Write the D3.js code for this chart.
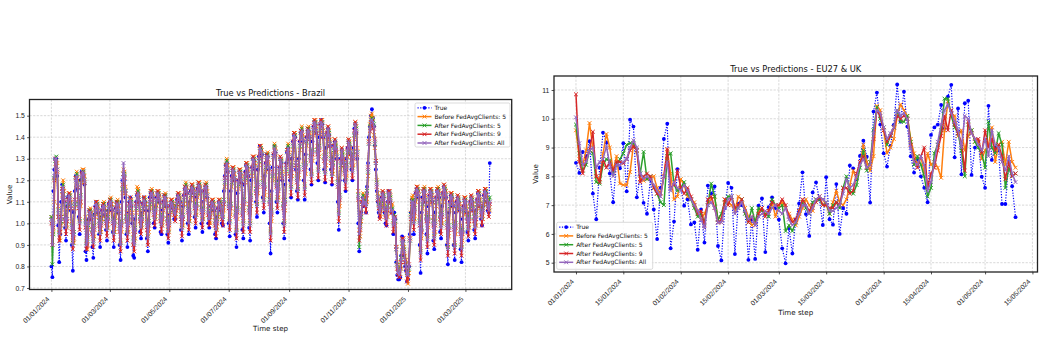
<!DOCTYPE html>
<html><head><meta charset="utf-8">
<script src="https://cdn.jsdelivr.net/npm/d3@7"></script>
<style>body{margin:0;background:#fff}svg{display:block;font-family:"DejaVu Sans",sans-serif}</style>
</head><body><svg id="c" width="1045" height="340"></svg>
<script>
const seriesNames = ["True","Before FedAvgClients: 5","After FedAvgClients: 5","After FedAvgClients: 9","After FedAvgClients: All"];
const seriesColors = ["#0000ff","#ff7f0e","#2ca02c","#d62728","#9467bd"];
const startDate = "01/01/2024";

// ---------- Brazil (daily from 01/01/2024) ----------
const brazilTitle = "True vs Predictions - Brazil";
const brazilYTicks = [0.7,0.8,0.9,1.0,1.1,1.2,1.3,1.4,1.5];
const brazilXTicks = ["01/01/2024","01/03/2024","01/05/2024","01/07/2024","01/09/2024","01/11/2024","01/01/2025","01/03/2025"];
const brazilTrue = [
0.80,0.75,1.15,1.25,1.30,1.30,1.22, 0.99,0.82,0.95,1.10,1.18,1.15,1.10, 0.98,0.92,1.08,1.12,1.13,1.10,1.06,
0.90,0.78,1.05,1.15,1.22,1.20,1.16, 1.03,0.95,1.20,1.24,1.23,1.22,1.18, 0.87,0.83,0.95,1.02,1.06,1.05,1.02,
0.89,0.84,1.04,1.08,1.10,1.07,1.05, 0.95,0.89,1.03,1.06,1.08,1.07,1.04, 0.97,0.92,1.06,1.09,1.10,1.09,1.06,
0.96,0.89,1.03,1.07,1.10,1.08,1.05, 0.90,0.83,1.10,1.20,1.22,1.20,1.12, 0.95,0.89,1.05,1.10,1.12,1.08,1.00,
0.85,0.84,1.02,1.10,1.13,1.13,1.10, 0.96,0.93,1.05,1.09,1.12,1.10,1.06, 0.93,0.87,1.06,1.12,1.14,1.14,1.12,
1.00,0.98,1.08,1.12,1.14,1.13,1.10, 0.96,0.95,1.06,1.10,1.13,1.12,1.08, 0.95,0.91,1.04,1.08,1.10,1.09,1.07,
1.02,1.02,1.08,1.11,1.13,1.12,1.10, 0.97,0.92,1.08,1.13,1.16,1.17,1.14, 1.00,0.95,1.10,1.15,1.17,1.16,1.14,
1.03,0.98,1.12,1.16,1.18,1.17,1.15, 1.00,0.96,1.10,1.15,1.17,1.17,1.12, 1.00,0.98,1.05,1.08,1.10,1.09,1.06,
0.95,0.93,1.03,1.07,1.10,1.09,1.06, 1.00,0.99,1.15,1.22,1.27,1.28,1.24, 1.00,0.94,1.15,1.22,1.25,1.24,1.20,
0.95,0.89,1.14,1.20,1.24,1.23,1.19, 0.97,0.93,1.18,1.24,1.27,1.26,1.22, 0.98,0.92,1.20,1.26,1.30,1.29,1.25,
1.10,1.03,1.25,1.31,1.36,1.34,1.32, 1.12,1.05,1.22,1.28,1.32,1.31,1.25, 1.00,0.86,1.15,1.26,1.32,1.36,1.33,
1.10,1.05,1.20,1.26,1.30,1.28,1.20, 1.00,0.93,1.18,1.28,1.33,1.35,1.30, 1.20,1.12,1.30,1.38,1.41,1.40,1.25,
1.15,1.11,1.30,1.38,1.42,1.43,1.38, 1.20,1.11,1.32,1.40,1.43,1.43,1.40, 1.25,1.18,1.38,1.45,1.47,1.46,1.42,
1.28,1.20,1.40,1.46,1.48,1.46,1.40, 1.25,1.19,1.35,1.42,1.44,1.41,1.36, 1.25,1.18,1.30,1.36,1.38,1.34,1.30,
1.10,0.97,1.20,1.30,1.34,1.30,1.28, 1.20,1.15,1.30,1.35,1.38,1.36,1.32, 1.25,1.20,1.35,1.44,1.46,1.42,1.30,
1.00,0.87,1.00,1.05,1.10,1.12,1.08, 1.08,1.05,1.17,1.28,1.40,1.45,1.50, 1.53,1.49,1.45,1.36,1.25,1.15,1.10,
1.05,1.03,1.08,1.12,1.14,1.12,1.05, 1.00,0.99,1.10,1.15,1.14,1.10,1.05, 1.05,0.95,1.05,1.02,0.82,0.76,0.74,
0.74,0.75,0.85,0.94,0.92,0.85,0.80, 0.78,0.73,0.74,0.80,0.95,1.05,1.11, 1.10,0.95,1.10,1.14,1.16,1.15,1.12,
0.90,0.77,1.05,1.12,1.15,1.15,1.10, 0.95,0.86,1.08,1.13,1.15,1.14,1.10, 0.92,0.88,1.05,1.12,1.15,1.15,1.12,
0.96,0.93,1.08,1.14,1.17,1.15,1.12, 0.90,0.81,1.05,1.10,1.13,1.12,1.08, 0.90,0.83,1.05,1.10,1.12,1.10,1.06,
0.88,0.82,1.02,1.08,1.11,1.10,1.05, 0.96,0.92,1.05,1.10,1.12,1.10,1.06, 0.97,0.93,1.06,1.11,1.14,1.13,1.08,
1.02,0.99,1.08,1.13,1.15,1.14,1.10, 1.06,1.05,1.28];
const brazilBefore5 = [
1.03,0.95,0.96,1.10,1.26,1.30,1.28, 1.08,0.97,0.92,0.99,1.13,1.20,1.15, 1.05,1.00,0.98,1.07,1.14,1.14,1.10,
1.01,0.92,0.91,1.07,1.21,1.24,1.20, 1.11,1.02,1.08,1.19,1.25,1.25,1.22, 1.03,0.92,0.88,0.97,1.06,1.07,1.05,
0.99,0.93,0.94,1.03,1.10,1.10,1.08, 1.03,0.97,0.96,1.02,1.09,1.10,1.07, 1.04,0.99,0.98,1.05,1.11,1.12,1.09,
1.04,0.97,0.96,1.03,1.10,1.11,1.08, 1.01,0.92,0.96,1.14,1.25,1.24,1.17, 1.05,0.97,0.96,1.05,1.12,1.11,1.05,
0.95,0.92,0.93,1.05,1.17,1.16,1.13, 1.05,1.00,0.98,1.05,1.12,1.12,1.09, 1.02,0.95,0.96,1.07,1.15,1.16,1.14,
1.08,1.04,1.02,1.08,1.15,1.15,1.13, 1.05,1.01,0.99,1.06,1.13,1.14,1.11, 1.04,0.98,0.96,1.04,1.11,1.11,1.09,
1.08,1.06,1.03,1.07,1.14,1.14,1.12, 1.06,0.99,0.99,1.09,1.17,1.19,1.17, 1.09,1.02,1.01,1.11,1.18,1.18,1.16,
1.11,1.05,1.04,1.12,1.19,1.19,1.17, 1.09,1.03,1.02,1.11,1.18,1.19,1.15, 1.08,1.04,1.00,1.05,1.11,1.11,1.09,
1.03,0.99,0.97,1.03,1.11,1.11,1.09, 1.06,1.04,1.06,1.17,1.27,1.30,1.27, 1.11,1.02,1.04,1.17,1.26,1.26,1.23,
1.07,0.98,1.02,1.16,1.25,1.25,1.22, 1.08,1.01,1.06,1.19,1.28,1.28,1.25, 1.09,1.01,1.08,1.22,1.31,1.31,1.28,
1.18,1.10,1.14,1.27,1.36,1.36,1.34, 1.21,1.12,1.13,1.24,1.32,1.33,1.28, 1.13,0.97,1.01,1.20,1.32,1.37,1.35,
1.21,1.12,1.12,1.22,1.31,1.30,1.24, 1.11,1.01,1.06,1.23,1.34,1.37,1.33, 1.26,1.18,1.22,1.34,1.42,1.42,1.30,
1.23,1.17,1.21,1.34,1.43,1.45,1.41, 1.29,1.18,1.23,1.36,1.44,1.45,1.42, 1.33,1.24,1.29,1.41,1.48,1.48,1.45,
1.36,1.26,1.31,1.42,1.48,1.48,1.43, 1.33,1.25,1.27,1.38,1.45,1.43,1.39, 1.32,1.24,1.23,1.32,1.39,1.37,1.33,
1.21,1.06,1.08,1.25,1.35,1.33,1.30, 1.27,1.21,1.22,1.31,1.39,1.38,1.35, 1.31,1.26,1.27,1.39,1.47,1.45,1.35,
1.15,0.97,0.94,1.01,1.10,1.14,1.11, 1.13,1.10,1.10,1.22,1.38,1.46,1.50, 1.51,1.49,1.41,1.35,1.29,1.20,1.14,
1.11,1.07,1.03,1.08,1.15,1.14,1.09, 1.07,1.04,1.03,1.11,1.15,1.13,1.08, 1.09,1.01,0.99,0.99,0.89,0.82,0.79,
0.79,0.80,0.79,0.89,0.93,0.89,0.85, 0.83,0.78,0.72,0.77,0.93,1.05,1.12, 1.13,1.02,1.02,1.10,1.17,1.17,1.15,
1.03,0.88,0.93,1.07,1.16,1.17,1.13, 1.05,0.94,0.98,1.09,1.16,1.16,1.13, 1.03,0.95,0.96,1.08,1.16,1.17,1.15,
1.06,1.00,1.00,1.10,1.18,1.17,1.15, 1.02,0.90,0.94,1.06,1.14,1.14,1.11, 1.01,0.91,0.95,1.06,1.13,1.12,1.09,
0.99,0.90,0.92,1.04,1.12,1.12,1.08, 1.05,0.99,0.98,1.06,1.13,1.12,1.09, 1.05,1.00,0.99,1.07,1.15,1.15,1.11,
1.08,1.04,1.02,1.09,1.16,1.16,1.13, 1.11,1.08,1.06];
const brazilAfter5 = [
1.03,0.81,0.95,1.21,1.29,1.31,1.25, 1.06,0.96,0.99,1.01,1.15,1.18,1.12, 1.03,0.99,1.02,1.09,1.13,1.13,1.08,
0.99,0.91,0.96,1.09,1.20,1.23,1.18, 1.09,1.01,1.13,1.21,1.24,1.24,1.20, 1.01,0.91,0.93,0.99,1.05,1.06,1.03,
0.97,0.92,0.99,1.05,1.09,1.09,1.06, 1.01,0.96,1.01,1.04,1.08,1.09,1.05, 1.02,0.98,1.03,1.07,1.10,1.11,1.07,
1.02,0.96,1.01,1.05,1.09,1.10,1.06, 0.99,0.91,1.01,1.16,1.23,1.23,1.15, 1.03,0.96,1.01,1.07,1.11,1.10,1.03,
0.93,0.91,0.98,1.07,1.13,1.15,1.11, 1.03,0.99,1.03,1.07,1.11,1.11,1.07, 1.00,0.94,1.01,1.09,1.14,1.15,1.12,
1.06,1.03,1.07,1.10,1.14,1.14,1.11, 1.03,1.00,1.04,1.08,1.12,1.13,1.09, 1.02,0.97,1.01,1.06,1.10,1.10,1.07,
1.06,1.05,1.08,1.09,1.13,1.13,1.10, 1.04,0.98,1.04,1.11,1.16,1.18,1.15, 1.07,1.01,1.06,1.13,1.17,1.17,1.14,
1.09,1.04,1.09,1.14,1.18,1.18,1.15, 1.07,1.02,1.07,1.13,1.17,1.18,1.13, 1.06,1.03,1.05,1.07,1.10,1.10,1.07,
1.01,0.98,1.02,1.05,1.10,1.10,1.07, 1.04,1.03,1.11,1.19,1.26,1.29,1.25, 1.09,1.01,1.09,1.19,1.25,1.25,1.21,
1.05,0.97,1.07,1.18,1.24,1.24,1.20, 1.06,1.00,1.11,1.21,1.27,1.27,1.23, 1.07,1.00,1.13,1.24,1.30,1.30,1.26,
1.16,1.09,1.19,1.29,1.35,1.35,1.32, 1.19,1.11,1.18,1.26,1.31,1.32,1.26, 1.11,0.96,1.06,1.22,1.31,1.36,1.33,
1.19,1.11,1.17,1.24,1.30,1.29,1.22, 1.09,1.00,1.11,1.25,1.33,1.36,1.31, 1.24,1.17,1.27,1.36,1.41,1.41,1.28,
1.21,1.16,1.26,1.36,1.42,1.44,1.39, 1.27,1.17,1.28,1.38,1.43,1.44,1.40, 1.31,1.23,1.34,1.43,1.47,1.47,1.43,
1.34,1.25,1.36,1.44,1.47,1.47,1.41, 1.31,1.24,1.32,1.40,1.44,1.42,1.37, 1.30,1.23,1.28,1.34,1.38,1.36,1.31,
1.19,1.05,1.13,1.27,1.34,1.32,1.28, 1.25,1.20,1.27,1.33,1.38,1.37,1.33, 1.29,1.25,1.32,1.41,1.46,1.44,1.33,
1.13,0.89,0.99,1.03,1.09,1.13,1.09, 1.11,1.09,1.15,1.24,1.37,1.45,1.48, 1.49,1.48,1.46,1.37,1.28,1.19,1.12,
1.09,1.06,1.08,1.10,1.14,1.13,1.07, 1.05,1.03,1.08,1.13,1.14,1.12,1.06, 1.07,1.00,1.04,1.01,0.88,0.81,0.77,
0.77,0.79,0.84,0.91,0.92,0.88,0.83, 0.81,0.77,0.77,0.79,0.92,1.04,1.10, 1.11,1.01,1.07,1.12,1.16,1.16,1.13,
1.01,0.87,0.98,1.09,1.15,1.16,1.11, 1.03,0.93,1.03,1.11,1.15,1.15,1.11, 1.01,0.94,1.01,1.10,1.15,1.16,1.13,
1.04,0.99,1.05,1.12,1.17,1.16,1.13, 1.00,0.89,0.99,1.08,1.13,1.13,1.09, 0.99,0.90,1.00,1.08,1.12,1.11,1.07,
0.97,0.89,0.97,1.06,1.11,1.11,1.06, 1.03,0.98,1.03,1.08,1.12,1.11,1.07, 1.03,0.99,1.04,1.09,1.14,1.14,1.09,
1.06,1.03,1.07,1.11,1.15,1.15,1.11, 1.09,1.07,1.12];
const brazilAfter9 = [
1.00,0.90,0.98,1.20,1.30,1.29,1.24, 1.03,0.92,0.96,1.03,1.16,1.16,1.11, 1.01,0.95,1.01,1.11,1.14,1.11,1.07,
0.96,0.88,0.93,1.11,1.21,1.21,1.17, 1.07,0.97,1.10,1.23,1.24,1.22,1.19, 0.98,0.88,0.90,1.01,1.06,1.04,1.02,
0.95,0.89,0.97,1.07,1.10,1.07,1.05, 0.99,0.92,0.99,1.06,1.09,1.07,1.04, 1.00,0.94,1.01,1.09,1.11,1.09,1.06,
1.00,0.92,0.99,1.07,1.10,1.08,1.05, 0.96,0.87,0.99,1.18,1.23,1.21,1.14, 1.01,0.92,0.99,1.09,1.12,1.08,1.02,
0.90,0.87,0.96,1.09,1.14,1.13,1.10, 1.01,0.95,1.01,1.09,1.12,1.09,1.06, 0.97,0.90,0.99,1.11,1.15,1.13,1.11,
1.04,0.99,1.05,1.12,1.15,1.12,1.10, 1.01,0.96,1.02,1.10,1.13,1.11,1.08, 1.00,0.93,0.99,1.08,1.11,1.08,1.06,
1.04,1.01,1.06,1.11,1.14,1.11,1.09, 1.02,0.94,1.02,1.13,1.17,1.16,1.14, 1.05,0.97,1.04,1.15,1.18,1.15,1.13,
1.07,1.00,1.07,1.16,1.19,1.16,1.14, 1.05,0.98,1.05,1.15,1.18,1.16,1.12, 1.04,0.99,1.03,1.09,1.11,1.08,1.06,
0.99,0.94,1.00,1.07,1.11,1.08,1.06, 1.02,0.99,1.09,1.21,1.27,1.27,1.24, 1.07,0.97,1.07,1.21,1.26,1.23,1.20,
1.03,0.93,1.05,1.20,1.25,1.22,1.19, 1.04,0.96,1.09,1.23,1.28,1.25,1.22, 1.05,0.96,1.11,1.26,1.31,1.28,1.25,
1.14,1.05,1.17,1.31,1.36,1.33,1.31, 1.17,1.07,1.16,1.28,1.32,1.30,1.25, 1.09,0.92,1.04,1.24,1.32,1.34,1.32,
1.17,1.07,1.15,1.26,1.31,1.27,1.21, 1.07,0.96,1.09,1.27,1.34,1.34,1.30, 1.22,1.13,1.25,1.38,1.42,1.39,1.27,
1.19,1.12,1.24,1.38,1.43,1.42,1.38, 1.25,1.13,1.26,1.40,1.44,1.42,1.39, 1.29,1.19,1.32,1.45,1.48,1.45,1.42,
1.32,1.21,1.34,1.46,1.48,1.45,1.40, 1.29,1.20,1.30,1.42,1.45,1.40,1.36, 1.28,1.19,1.26,1.36,1.39,1.34,1.30,
1.17,1.01,1.11,1.29,1.35,1.30,1.27, 1.23,1.16,1.25,1.35,1.39,1.35,1.32, 1.27,1.21,1.30,1.43,1.47,1.42,1.32,
1.11,0.92,0.97,1.05,1.10,1.11,1.08, 1.09,1.05,1.13,1.26,1.38,1.43,1.47, 1.47,1.44,1.44,1.39,1.29,1.17,1.11,
1.07,1.02,1.06,1.12,1.15,1.11,1.06, 1.03,0.99,1.06,1.15,1.15,1.10,1.05, 1.05,0.96,1.02,1.03,0.89,0.79,0.76,
0.75,0.75,0.82,0.93,0.93,0.86,0.82, 0.79,0.73,0.75,0.81,0.93,1.02,1.09, 1.09,0.97,1.05,1.14,1.17,1.14,1.12,
0.99,0.83,0.96,1.11,1.16,1.14,1.10, 1.01,0.89,1.01,1.13,1.16,1.13,1.10, 0.99,0.90,0.99,1.12,1.16,1.14,1.12,
1.02,0.95,1.03,1.14,1.18,1.14,1.12, 0.98,0.85,0.97,1.10,1.14,1.11,1.08, 0.97,0.86,0.98,1.10,1.13,1.09,1.06,
0.95,0.85,0.95,1.08,1.12,1.09,1.05, 1.01,0.94,1.01,1.10,1.13,1.09,1.06, 1.01,0.95,1.02,1.11,1.15,1.12,1.08,
1.04,0.99,1.05,1.13,1.16,1.13,1.10, 1.07,1.03,1.09];
const brazilAfterAll = [
1.02,0.90,1.00,1.22,1.30,1.30,1.25, 1.05,0.95,0.98,1.02,1.15,1.17,1.12, 1.02,0.98,1.02,1.10,1.13,1.12,1.08,
0.98,0.90,0.95,1.10,1.20,1.22,1.18, 1.08,1.00,1.12,1.22,1.24,1.23,1.20, 1.00,0.90,0.92,1.00,1.05,1.05,1.03,
0.96,0.91,0.98,1.06,1.09,1.08,1.06, 1.00,0.95,1.00,1.05,1.08,1.08,1.05, 1.01,0.97,1.02,1.08,1.10,1.10,1.07,
1.01,0.95,1.00,1.06,1.09,1.09,1.06, 0.98,0.90,1.00,1.20,1.28,1.22,1.15, 1.02,0.95,1.00,1.08,1.11,1.09,1.03,
0.92,0.90,0.97,1.08,1.13,1.14,1.11, 1.02,0.98,1.02,1.08,1.11,1.10,1.07, 0.99,0.93,1.00,1.10,1.14,1.14,1.12,
1.05,1.02,1.06,1.11,1.14,1.13,1.11, 1.02,0.99,1.03,1.09,1.12,1.12,1.09, 1.01,0.96,1.00,1.07,1.10,1.09,1.07,
1.05,1.04,1.07,1.10,1.13,1.12,1.10, 1.03,0.97,1.03,1.12,1.16,1.17,1.15, 1.06,1.00,1.05,1.14,1.17,1.16,1.14,
1.08,1.03,1.08,1.15,1.18,1.17,1.15, 1.06,1.01,1.06,1.14,1.17,1.17,1.13, 1.05,1.02,1.04,1.08,1.10,1.09,1.07,
1.00,0.97,1.01,1.06,1.10,1.09,1.07, 1.03,1.02,1.10,1.20,1.26,1.28,1.25, 1.08,1.00,1.08,1.20,1.25,1.24,1.21,
1.04,0.96,1.06,1.19,1.24,1.23,1.20, 1.05,0.99,1.10,1.22,1.27,1.26,1.23, 1.06,0.99,1.12,1.25,1.30,1.29,1.26,
1.15,1.08,1.18,1.30,1.35,1.34,1.32, 1.18,1.10,1.17,1.27,1.31,1.31,1.26, 1.10,0.95,1.05,1.23,1.31,1.35,1.33,
1.18,1.10,1.16,1.25,1.30,1.28,1.22, 1.08,0.99,1.10,1.26,1.33,1.35,1.31, 1.23,1.16,1.26,1.37,1.41,1.40,1.28,
1.20,1.15,1.25,1.37,1.42,1.43,1.39, 1.26,1.16,1.27,1.39,1.43,1.43,1.40, 1.30,1.22,1.33,1.44,1.47,1.46,1.43,
1.33,1.24,1.35,1.45,1.47,1.46,1.41, 1.30,1.23,1.31,1.41,1.44,1.41,1.37, 1.29,1.22,1.27,1.35,1.38,1.35,1.31,
1.18,1.04,1.12,1.28,1.34,1.31,1.28, 1.24,1.19,1.26,1.34,1.38,1.36,1.33, 1.28,1.24,1.31,1.42,1.46,1.43,1.33,
1.12,0.95,0.98,1.04,1.09,1.12,1.09, 1.10,1.08,1.14,1.25,1.37,1.44,1.48, 1.48,1.47,1.45,1.38,1.28,1.18,1.12,
1.08,1.05,1.07,1.11,1.14,1.12,1.07, 1.04,1.02,1.07,1.14,1.14,1.11,1.06, 1.06,0.99,1.03,1.02,0.88,0.80,0.77,
0.76,0.78,0.83,0.92,0.92,0.87,0.83, 0.80,0.76,0.76,0.80,0.92,1.03,1.10, 1.10,1.00,1.06,1.13,1.16,1.15,1.13,
1.00,0.86,0.97,1.10,1.15,1.15,1.11, 1.02,0.92,1.02,1.12,1.15,1.14,1.11, 1.00,0.93,1.00,1.11,1.15,1.15,1.13,
1.03,0.98,1.04,1.13,1.17,1.15,1.13, 0.99,0.88,0.98,1.09,1.13,1.12,1.09, 0.98,0.89,0.99,1.09,1.12,1.10,1.07,
0.96,0.88,0.96,1.07,1.11,1.10,1.06, 1.02,0.97,1.02,1.09,1.12,1.10,1.07, 1.02,0.98,1.03,1.10,1.14,1.13,1.09,
1.05,1.02,1.06,1.12,1.15,1.14,1.11, 1.08,1.06,1.10];

// ---------- EU27 & UK (daily from 01/01/2024) ----------
const euTitle = "True vs Predictions - EU27 & UK";
const euYTicks = [5,6,7,8,9,10,11];
const euXTicks = ["01/01/2024","15/01/2024","01/02/2024","15/02/2024","01/03/2024","15/03/2024","01/04/2024","15/04/2024","01/05/2024","15/05/2024"];
const euTrue = [
8.47,8.12,8.85,8.70,9.22,7.40,6.51, 8.30,9.52,9.18,8.10,7.10,8.50,8.28, 9.15,7.48,9.97,9.73,7.27,8.05,7.08,
6.70,7.90,6.85,5.82,7.60,9.30,9.83, 5.50,6.43,8.25,7.60,6.98,7.20,6.33, 6.40,5.45,6.85,5.70,7.68,7.40,7.65,
5.58,5.08,6.90,7.77,7.60,5.30,7.05, 7.00,6.82,5.10,6.50,5.13,6.98,7.23, 5.37,6.93,7.27,6.90,6.50,5.50,4.98,
6.20,5.32,6.50,7.06,8.14,6.69,5.93, 7.44,7.79,7.20,6.31,7.97,6.51,6.32, 7.73,6.00,6.90,6.70,8.38,8.28,7.90,
8.71,9.24,8.68,7.09,10.25,10.91,9.80, 8.80,8.34,9.06,9.79,11.19,9.90,10.94, 9.73,8.70,8.13,8.60,8.00,7.60,7.10,
9.44,9.70,9.80,10.48,9.65,10.77,11.18, 8.66,10.36,8.07,10.54,10.63,8.05,9.00, 9.20,7.99,7.60,10.45,8.57,9.00,8.90,
7.04,7.04,8.50,7.66,6.58];
const euBefore5 = [
9.60,8.60,8.40,8.90,9.85,9.00,8.00, 7.90,8.80,9.47,9.00,8.20,8.70,7.75, 7.70,7.70,8.15,9.10,8.90,7.90,7.85,
7.90,7.95,8.00,7.60,7.40,8.00,8.90, 8.10,7.20,7.30,7.90,7.70,7.30,7.20, 7.10,6.80,6.50,6.70,7.00,7.20,7.30,
6.50,6.40,7.20,7.10,7.00,6.80,7.30, 7.20,6.90,6.60,6.30,6.40,6.80,6.90, 6.70,6.80,7.10,6.60,7.00,7.10,6.90,
6.70,6.50,6.30,6.60,6.90,7.20,7.00, 6.80,7.20,7.30,7.20,7.00,6.70,7.10, 7.50,7.10,7.00,7.20,7.70,8.20,7.90,
8.40,9.10,8.50,8.20,8.70,10.45,10.30, 9.60,8.80,9.00,9.30,10.10,10.50,10.30, 10.10,9.30,8.80,8.40,8.70,8.10,8.80,
8.40,8.50,8.30,7.95,9.60,10.60,10.20, 10.10,9.40,9.60,8.90,9.40,9.60,9.20, 9.20,8.60,8.90,9.10,9.70,8.50,9.10,
9.20,8.40,9.20,8.50,8.30];
const euAfter5 = [
9.80,8.80,8.20,8.40,8.90,8.80,7.80, 7.75,8.40,8.60,8.55,8.10,8.40,8.60, 8.80,9.10,9.15,9.15,8.90,8.10,8.85,
7.90,8.00,7.60,7.40,7.10,7.00,8.70, 8.80,7.70,7.50,7.60,7.80,7.40,7.20, 6.90,6.60,6.70,6.40,7.00,7.75,7.30,
6.50,6.70,7.10,7.30,7.30,6.90,6.90, 7.20,6.70,6.40,6.90,6.40,6.90,6.80, 6.70,6.60,7.20,7.00,6.90,7.00,6.10,
6.30,6.10,6.40,6.80,7.10,6.90,6.70, 7.10,7.20,7.20,7.00,7.10,6.70,7.00, 7.10,6.90,7.60,8.00,7.50,7.40,7.70,
8.30,8.90,8.20,8.50,9.60,10.40,10.00, 9.70,9.10,9.40,9.70,10.30,9.90,9.90, 10.10,9.20,8.40,8.70,8.40,8.00,7.30,
7.60,8.80,9.10,9.60,10.70,10.70,10.10, 9.70,9.50,8.90,8.00,9.80,9.60,9.20, 9.00,8.80,8.30,9.90,9.00,8.80,9.50,
9.10,7.60,8.30,8.00,8.10];
const euAfter9 = [
10.85,8.50,8.10,8.60,8.90,9.55,8.00, 7.80,8.60,8.30,8.50,8.20,8.50,8.50, 8.45,8.60,8.90,9.05,8.90,7.80,8.00,
8.10,8.00,7.60,7.40,7.30,8.00,8.95, 7.60,7.70,8.20,7.60,7.40,7.60,7.30, 7.00,6.70,6.80,6.30,7.20,7.30,6.90,
6.40,6.50,7.20,7.00,7.30,6.90,7.00, 7.20,6.80,6.40,6.60,6.30,6.70,6.90, 6.60,6.80,7.10,7.00,7.00,7.20,7.00,
6.60,6.40,6.50,6.80,7.20,7.00,6.80, 7.00,7.10,7.30,7.00,7.00,6.90,6.90, 7.10,7.00,7.60,7.60,7.40,7.50,8.10,
8.50,8.70,8.30,8.40,9.30,10.30,10.10, 9.60,9.20,9.40,9.70,10.10,10.00,10.10, 10.00,9.10,8.60,8.30,8.70,9.00,7.60,
8.10,8.30,8.90,9.40,10.10,9.60,10.30, 9.80,9.50,9.20,8.20,9.90,9.50,9.30, 9.30,8.80,9.60,9.00,9.30,8.90,9.10,
8.70,7.90,8.50,8.00,8.10];
const euAfterAll = [
10.05,9.15,8.40,8.50,8.90,9.00,8.30, 8.50,8.60,9.05,8.40,8.00,8.40,8.40, 8.50,8.60,9.00,9.25,9.00,8.10,7.90,
8.00,7.90,7.70,7.50,7.30,8.00,8.50, 7.50,7.80,7.60,7.50,7.70,7.50,7.20, 7.00,6.80,6.50,6.20,7.00,7.10,6.90,
6.40,6.40,6.90,7.20,7.30,6.70,6.90, 7.10,6.80,6.50,6.60,6.30,6.60,6.70, 6.80,6.70,6.90,7.00,6.80,6.70,6.90,
6.50,6.30,6.40,6.70,7.00,7.00,6.70, 6.90,7.20,7.30,7.20,7.10,6.80,6.80, 6.90,7.00,7.40,7.90,7.60,7.70,8.00,
8.40,8.60,8.30,8.40,9.50,10.30,10.20, 9.70,9.30,9.50,9.70,10.30,10.10,10.20, 10.00,9.00,8.50,8.40,8.70,8.40,7.50,
7.80,8.50,9.20,9.80,10.30,10.50,10.20, 9.90,9.60,9.00,10.10,10.00,9.50,9.30, 9.10,8.90,9.30,8.70,9.60,9.10,9.00,
8.50,8.20,8.70,8.10,7.80];

// ---------- drawing ----------
const svg = d3.select("#c");
const parseD = d3.utcParse("%d/%m/%Y");
const fmtD = d3.utcFormat("%d/%m/%Y");
const t0 = parseD(startDate);
const dayDate = d => new Date(t0.getTime() + d * 864e5);

function panel(o) {
  const g = svg.append("g");
  const x = d3.scaleUtc().domain([dayDate(o.xMin), dayDate(o.xMax)]).range([o.left, o.right]);
  const y = d3.scaleLinear().domain(o.yDomain).range([o.bottom, o.top]);
  const xt = o.xTicks.map(parseD);
  const grid = g.append("g").attr("stroke", "#b0b0b0").attr("stroke-width", 0.6).attr("stroke-dasharray", "2.2,1.4").attr("opacity", 0.8);
  grid.selectAll(".gx").data(xt).join("line").attr("x1", d => x(d)).attr("x2", d => x(d)).attr("y1", o.top).attr("y2", o.bottom);
  grid.selectAll(".gy").data(o.yTicks).join("line").attr("y1", d => y(d)).attr("y2", d => y(d)).attr("x1", o.left).attr("x2", o.right);
  o.series.forEach((s, si) => {
    const col = seriesColors[si];
    const line = d3.line().x((d, i) => x(dayDate(i))).y(d => y(d));
    const sg = g.append("g");
    if (si === 0) {
      sg.append("path").attr("d", line(s)).attr("fill", "none").attr("stroke", col).attr("stroke-width", 1.2).attr("stroke-dasharray", "1.2,1.5");
      sg.selectAll("circle").data(s).join("circle").attr("cx", (d, i) => x(dayDate(i))).attr("cy", d => y(d)).attr("r", 1.9).attr("fill", col);
    } else {
      sg.append("path").attr("d", line(s)).attr("fill", "none").attr("stroke", col).attr("stroke-width", 1.5).attr("stroke-linejoin", "round");
      const m = 1.9;
      sg.append("path").attr("d", s.map((d, i) => { const px = x(dayDate(i)), py = y(d); return `M${px-m},${py-m}L${px+m},${py+m}M${px-m},${py+m}L${px+m},${py-m}`; }).join(""))
        .attr("stroke", col).attr("stroke-width", 1).attr("fill", "none");
    }
  });
  g.append("rect").attr("x", o.left).attr("y", o.top).attr("width", o.right - o.left).attr("height", o.bottom - o.top)
    .attr("fill", "none").attr("stroke", "#222").attr("stroke-width", 1.3);
  const xa = g.append("g").attr("transform", `translate(0,${o.bottom})`)
    .call(d3.axisBottom(x).tickValues(xt).tickFormat(fmtD).tickSize(2.4).tickSizeOuter(0));
  xa.select(".domain").remove();
  xa.selectAll(".tick line").attr("stroke", "#222").attr("stroke-width", 0.8);
  xa.selectAll(".tick text").attr("font-size", 6.8).attr("fill", "#222").attr("y", 0).attr("dy", 0)
    .attr("text-anchor", "end").attr("transform", "translate(-2,10) rotate(-45)");
  const ya = g.append("g").attr("transform", `translate(${o.left},0)`)
    .call(d3.axisLeft(y).tickValues(o.yTicks).tickFormat(o.yFmt).tickSize(2.4).tickPadding(2.2).tickSizeOuter(0));
  ya.select(".domain").remove();
  ya.selectAll(".tick line").attr("stroke", "#222").attr("stroke-width", 0.8);
  ya.selectAll(".tick text").attr("font-size", 6.8).attr("fill", "#222");
  const cx = (o.left + o.right) / 2, cy = (o.top + o.bottom) / 2;
  g.append("text").attr("x", cx).attr("y", o.top - 4).attr("text-anchor", "middle").attr("font-size", 8.3).attr("fill", "#111").text(o.title);
  g.append("text").attr("x", cx).attr("y", o.xLabelY).attr("text-anchor", "middle").attr("font-size", 7.1).attr("fill", "#111").text("Time step");
  g.append("text").attr("transform", `translate(${o.yLabelX},${cy}) rotate(-90)`).attr("text-anchor", "middle").attr("font-size", 7.1).attr("fill", "#111").text("Value");
  const L = o.legend;
  const lg = g.append("g").attr("transform", `translate(${L.x},${L.y})`);
  lg.append("rect").attr("width", L.w).attr("height", L.h).attr("rx", 1.5).attr("fill", "#fff").attr("fill-opacity", 0.85).attr("stroke", "#ccc").attr("stroke-width", 0.7);
  seriesNames.forEach((name, i) => {
    const ry = 4.8 + i * 8.8;
    const col = seriesColors[i];
    if (i === 0) {
      lg.append("line").attr("x1", 2.5).attr("x2", 16.5).attr("y1", ry).attr("y2", ry).attr("stroke", col).attr("stroke-width", 1.2).attr("stroke-dasharray", "1.2,1.5");
      lg.append("circle").attr("cx", 9.5).attr("cy", ry).attr("r", 1.9).attr("fill", col);
    } else {
      lg.append("line").attr("x1", 2.5).attr("x2", 16.5).attr("y1", ry).attr("y2", ry).attr("stroke", col).attr("stroke-width", 1.5);
      lg.append("path").attr("d", `M${9.5-1.9},${ry-1.9}L${9.5+1.9},${ry+1.9}M${9.5-1.9},${ry+1.9}L${9.5+1.9},${ry-1.9}`).attr("stroke", col).attr("stroke-width", 1);
    }
    lg.append("text").attr("x", 19.5).attr("y", ry).attr("dy", "0.35em").attr("font-size", 6).attr("fill", "#111").text(name);
  });
}

panel({
  left: 29.5, right: 511.7, top: 99.5, bottom: 289.5,
  xMin: -22.5, xMax: 472.5, yDomain: [0.693, 1.575], yTicks: brazilYTicks, yFmt: d3.format(".1f"),
  xTicks: brazilXTicks, title: brazilTitle, xLabelY: 331, yLabelX: 12,
  series: [brazilTrue, brazilBefore5, brazilAfter5, brazilAfter9, brazilAfterAll],
  legend: {x: 415, y: 103, w: 95, h: 44}
});
panel({
  left: 554, right: 1037.5, top: 76, bottom: 272,
  xMin: -6.5, xMax: 136.5, yDomain: [4.677, 11.486], yTicks: euYTicks, yFmt: d3.format("d"),
  xTicks: euXTicks, title: euTitle, xLabelY: 315, yLabelX: 538,
  series: [euTrue, euBefore5, euAfter5, euAfter9, euAfterAll],
  legend: {x: 556.7, y: 222.3, w: 96, h: 47}
});
</script></body></html>
